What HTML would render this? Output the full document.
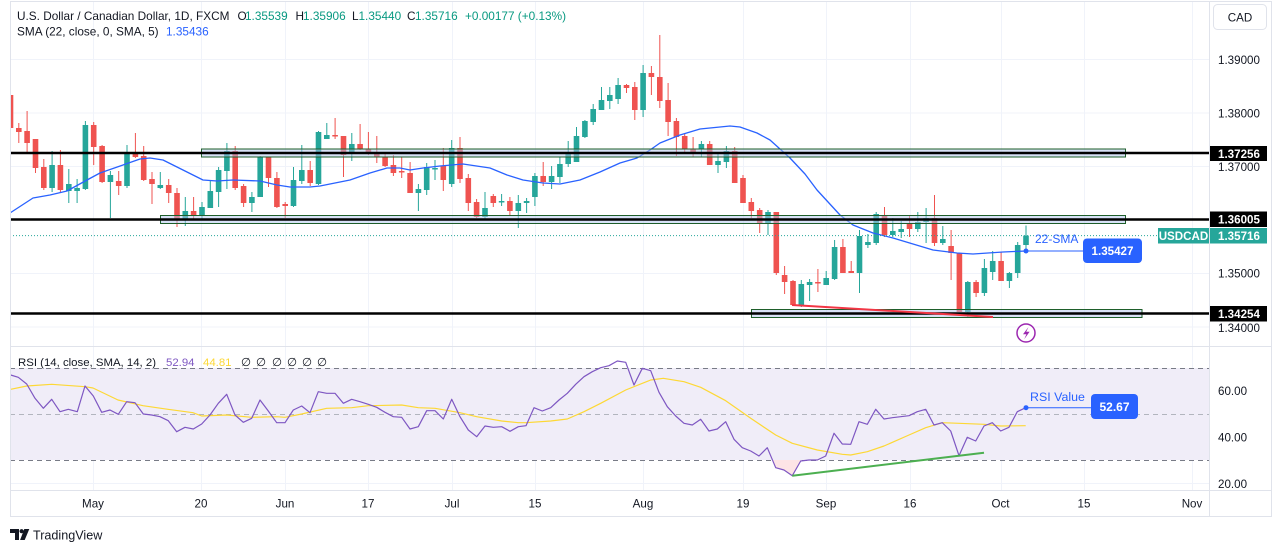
<!DOCTYPE html>
<html><head><meta charset="utf-8"><style>
html,body{margin:0;padding:0;background:#fff;}
body{width:1275px;height:552px;overflow:hidden;}
svg{display:block;font-family:"Liberation Sans",sans-serif;}
</style></head><body>
<svg width="1275" height="552" viewBox="0 0 1275 552" xmlns="http://www.w3.org/2000/svg">
<defs>
<clipPath id="pc"><rect x="10" y="1" width="1199" height="345"/></clipPath>
<clipPath id="rc"><rect x="10" y="347" width="1199" height="143"/></clipPath>
</defs>
<rect width="1275" height="552" fill="#fff"/>
<!-- grid -->
<g stroke="#f0f3fa" stroke-width="1">
<path d="M10 59.5H1209M10 113H1209M10 166.5H1209M10 220H1209M10 273.5H1209M10 327H1209"/>
<path d="M10 390.5H1209M10 437H1209M10 483.5H1209"/>
<path d="M93.5 1V490M201.5 1V490M285.5 1V490M368.5 1V490M452.5 1V490M535.5 1V490M643.5 1V490M743.5 1V490M826.5 1V490M910.5 1V490M1001.5 1V490M1084.5 1V490M1192.5 1V490"/>
</g>
<!-- RSI band -->
<rect x="10" y="368" width="1199" height="92" fill="#f0edf8"/>
<g stroke-width="1" stroke-dasharray="5,4" fill="none">
<path d="M10 368.5H1209M10 460.5H1209" stroke="#787b86"/>
<path d="M10 414.5H1209" stroke="#b2b5be"/>
</g>
<!-- candles -->
<g clip-path="url(#pc)">
<path fill="none" stroke="#26a69a" stroke-width="1" d="M52.1 151V192M68.8 169V203M77.1 179V203M85.4 121V190M110.4 171V218M127 145V188M160.3 172V189M185.3 197V226M202 202V219M210.3 181V208M218.6 167V207M226.9 143V189M251.9 192V212M260.2 156V197M293.5 167V207M301.8 145V184M318.5 131V185M326.8 123V139M351.8 133V161M418.4 184V211M426.7 163V195M435 160V180M451.7 140V187M485 192V219M501.6 194V206M518.3 195V228M526.6 198V213M534.9 173V206M551.6 166V189M559.9 157V183M568.2 141V167M576.5 127V162M584.9 120V138M593.2 104V125M601.5 87V110M609.8 87V109M618.1 78V104M643.1 65V117M701.4 141V157M718 153V173M726.4 146V168M768 210V235M801.3 280V307M809.6 279V301M826.2 271V285M834.6 240V280M859.5 230V293M867.9 234V248M876.2 212V245M892.8 218V237M901.2 221V238M917.8 212V232M926.1 208V243M942.8 226V245M967.8 281V317M984.4 259V296M992.7 251V280M1009.4 272V288M1017.7 242V278M1026 225.5V250"/>
<path fill="#26a69a" d="M49.3 165h5.6v23h-5.6zM66 184h5.6v7h-5.6zM74.3 188h5.6v3h-5.6zM82.6 125h5.6v64h-5.6zM107.6 175h5.6v7h-5.6zM124.2 153h5.6v33h-5.6zM157.5 185h5.6v3h-5.6zM182.5 211h5.6v8h-5.6zM199.2 207h5.6v8h-5.6zM207.5 191h5.6v17h-5.6zM215.8 170h5.6v22h-5.6zM224.1 151h5.6v20h-5.6zM249.1 197h5.6v6h-5.6zM257.4 157h5.6v40h-5.6zM290.7 180h5.6v26h-5.6zM299 170h5.6v11h-5.6zM315.7 132h5.6v52h-5.6zM324 135h5.6v4h-5.6zM349 144h5.6v10h-5.6zM415.6 189h5.6v4h-5.6zM423.9 167h5.6v23h-5.6zM432.2 168h5.6v1.5h-5.6zM448.9 148h5.6v36h-5.6zM482.2 208h5.6v9h-5.6zM498.8 201h5.6v1.5h-5.6zM515.5 203h5.6v8h-5.6zM523.8 201h5.6v2h-5.6zM532.1 176h5.6v21h-5.6zM548.8 176h5.6v6h-5.6zM557.1 164h5.6v13h-5.6zM565.4 152h5.6v12h-5.6zM573.7 136h5.6v26h-5.6zM582.1 121h5.6v16h-5.6zM590.4 109h5.6v13h-5.6zM598.7 100h5.6v10h-5.6zM607 95h5.6v6h-5.6zM615.3 85h5.6v14h-5.6zM640.3 73h5.6v37h-5.6zM698.6 144h5.6v5h-5.6zM715.2 161h5.6v4h-5.6zM723.6 151h5.6v11h-5.6zM765.2 212h5.6v11h-5.6zM798.5 284h5.6v21h-5.6zM806.8 282h5.6v3h-5.6zM823.4 278h5.6v7h-5.6zM831.8 247h5.6v32h-5.6zM856.7 236h5.6v37h-5.6zM865.1 242h5.6v3h-5.6zM873.4 214h5.6v29h-5.6zM890 231h5.6v4h-5.6zM898.4 229h5.6v3h-5.6zM915 222h5.6v7h-5.6zM923.3 218h5.6v4h-5.6zM940 239h5.6v4h-5.6zM965 282h5.6v30h-5.6zM981.6 268h5.6v25h-5.6zM989.9 261h5.6v11h-5.6zM1006.6 273h5.6v8h-5.6zM1014.9 245h5.6v28h-5.6zM1023.2 235.6h5.6v9.4h-5.6z"/>
<path fill="none" stroke="#ef5350" stroke-width="1" d="M10.5 92V134M18.8 123V143M27.1 111V153M35.5 139V173M43.8 159V190M60.4 150V193M93.7 122V165M102.1 145V183M118.7 171V195M135.4 133V158M143.7 146V181M152 172V204M168.7 179V203M177 188V227M193.6 197V219M235.2 146V190M243.6 184V207M268.5 157V187M276.9 172V208M285.2 202V218M310.2 161V186M335.1 118V139M343.5 136V177M360.1 124V150M368.4 132V155M376.8 136V163M385.1 153V167M393.4 155V176M401.7 157V178M410.1 162V193M443.3 148V191M460 137V183M468.3 174V211M476.6 199V218M493.3 194V207M509.9 197V216M543.2 162V186M626.5 84V93M634.8 82V120M651.4 66V95M659.8 35V108M668.1 83V136M676.4 118V156M684.7 133V153M693.1 137V157M709.7 141V165M734.7 147V183M743 175V203M751.3 198V218M759.7 208V233M776.3 212V275M784.6 266V294M793 280V305M817.9 269V292M842.9 239V273M851.2 261V273M884.5 207V237M909.5 216V237M934.5 195V246M951.1 230V280M959.4 253V312M976.1 280V297M1001.1 252V281"/>
<path fill="#ef5350" d="M7.7 95h5.6v33h-5.6zM16 128h5.6v4h-5.6zM24.3 131h5.6v12h-5.6zM32.7 139h5.6v29h-5.6zM41 167h5.6v21h-5.6zM57.6 165h5.6v25h-5.6zM90.9 125h5.6v22h-5.6zM99.3 146h5.6v36h-5.6zM115.9 181h5.6v5h-5.6zM132.6 153h5.6v4h-5.6zM140.9 156h5.6v24h-5.6zM149.2 179h5.6v5h-5.6zM165.9 185h5.6v8h-5.6zM174.2 193h5.6v26h-5.6zM190.8 211h5.6v5h-5.6zM232.4 151h5.6v37h-5.6zM240.8 186h5.6v17h-5.6zM265.7 157h5.6v21h-5.6zM274.1 178h5.6v29h-5.6zM282.4 204h5.6v2h-5.6zM307.4 170h5.6v13h-5.6zM332.3 135h5.6v1.5h-5.6zM340.7 136h5.6v19h-5.6zM357.3 144h5.6v5h-5.6zM365.6 149h5.6v5h-5.6zM374 153h5.6v4h-5.6zM382.3 157h5.6v9h-5.6zM390.6 165h5.6v8h-5.6zM398.9 171h5.6v1.5h-5.6zM407.3 173h5.6v20h-5.6zM440.5 166h5.6v14h-5.6zM457.2 148h5.6v31h-5.6zM465.5 178h5.6v25h-5.6zM473.8 202h5.6v15h-5.6zM490.5 196h5.6v7h-5.6zM507.1 201h5.6v10h-5.6zM540.4 176h5.6v6h-5.6zM623.7 85h5.6v3h-5.6zM632 87h5.6v23h-5.6zM648.6 73h5.6v4h-5.6zM657 77h5.6v24h-5.6zM665.3 100h5.6v22h-5.6zM673.6 121h5.6v16h-5.6zM681.9 136h5.6v13h-5.6zM690.3 149h5.6v5h-5.6zM706.9 144h5.6v21h-5.6zM731.9 151h5.6v32h-5.6zM740.2 178h5.6v25h-5.6zM748.5 202h5.6v9h-5.6zM756.9 210h5.6v13h-5.6zM773.5 212h5.6v61h-5.6zM781.8 275h5.6v7h-5.6zM790.2 281h5.6v24h-5.6zM815.1 282h5.6v1.5h-5.6zM840.1 247h5.6v26h-5.6zM848.4 271h5.6v2h-5.6zM881.7 215h5.6v20h-5.6zM906.7 223h5.6v6h-5.6zM931.7 218h5.6v25h-5.6zM948.3 246h5.6v7h-5.6zM956.6 253h5.6v59h-5.6zM973.3 282h5.6v11h-5.6zM998.3 261h5.6v20h-5.6z"/>
<!-- SMA -->
<polyline fill="none" stroke="#2962ff" stroke-width="1.3" stroke-linejoin="round" points="10,213 33,198 50,195 67,191 87,180 100,173 123,165 140,159 150,158 163,160 183,170 203,180 217,181 233,180 260,181 277,185 290,187 310,187 320,186 350,180 370,173 387,168 400,168 410,170 423,168 440,166 463,164 490,168 507,175 523,180 543,183 560,184 580,180 600,172 620,163 637,158 650,150 660,143 680,135 700,129 720,127 730,126 740,127 757,133 770,140 790,158 805,174 817,190 840,215 853,225 873,233 893,238 913,244 933,250 957,253 973,254 1003,252 1026,251"/>
<!-- boxes -->
<g fill="rgba(178,198,240,0.5)" stroke="#1e5e2a" stroke-width="1">
<rect x="201.5" y="149" width="924" height="8"/>
<rect x="160.5" y="215.5" width="965" height="8"/>
<rect x="751.5" y="309.5" width="390.5" height="8"/>
</g>
<g stroke="#000" stroke-width="2.6">
<path d="M10 153H1209M10 219.5H1209M10 313.5H1209"/>
</g>
<!-- current price dotted line -->
<path d="M10 235.6H1158" stroke="#26a69a" stroke-width="1" stroke-dasharray="1,2"/>
<!-- red divergence -->
<path d="M792 305L993 317" stroke="#f23645" stroke-width="2"/>
</g>
<!-- lightning -->
<circle cx="1026" cy="333" r="9" fill="#fff" stroke="#9c27b0" stroke-width="1.5"/>
<path d="M1028.5 327L1023 334.2H1026.4L1024.2 339.2L1029.6 331.8H1026.2Z" fill="#9c27b0"/>
<!-- SMA annotation -->
<path d="M1026 251H1084" stroke="#2962ff" stroke-width="1"/>
<circle cx="1026" cy="251" r="2.5" fill="#2962ff"/>
<text x="1035" y="243" font-size="12" fill="#2962ff">22-SMA</text>
<rect x="1083" y="238.5" width="59" height="24.5" rx="4" fill="#2962ff"/>
<text x="1112.5" y="255" font-size="11.6" font-weight="bold" fill="#fff" text-anchor="middle">1.35427</text>
<!-- RSI -->
<g clip-path="url(#rc)">
<polygon points="772.5,460 775.7,467.7 784,470 792.3,475.7 800.7,461 801.3,460" fill="#fde4e6"/>
<polyline fill="none" stroke="#fdd835" stroke-width="1.2" stroke-linejoin="round" points="10.7,389.3 26.7,386 51.7,384.3 85,386.7 93,388 118,400 143,405.7 168,409.3 193,412.7 201.7,416 226.7,415 251.7,417.3 276.7,416.7 285,417.3 301.7,414 326.7,408.3 351.7,407.7 368.3,405.7 401.7,405 418.3,407.7 435,408.3 460,412.7 476.7,416.7 501.7,421 518.3,422.7 526,422.7 550.7,421 567.3,419 584,411.7 600.7,403.3 625.7,390 650.7,380 663.3,378.3 684,381.7 700.7,387.3 725.7,400.7 750.7,418.3 775.7,435 792.3,443.3 817.3,450 842.3,454.3 850.7,455 867.3,451.7 884,446 909,435 925.7,427.7 942.3,422.7 959,423.3 984,424.3 1000.7,426 1025.7,425.7"/>
<polyline fill="none" stroke="#7e57c2" stroke-width="1.2" stroke-linejoin="round" points="10.7,375 18.3,377.3 26.7,384 35,398.3 43.3,408.3 51.7,399.3 60,411.7 68.3,409.3 77.3,411.7 85,386 93.3,396 101.7,412.3 110,410 118.3,414.3 126.7,401.7 135,402.7 143.3,414 151.7,415 160,416.7 168.3,420.7 176.7,431.7 185,427.3 193.3,429 201.7,424 210,415 218.3,403.3 226.7,394.3 235,415 243.3,422.3 251.7,418.3 260,400 268.3,411 276.7,422.7 285,422.7 293.3,410 301.7,406 310,412.7 318.3,391.7 326.7,393.3 335,393.3 343.3,403.3 351.7,399.3 360,401.7 368.3,404.3 376.7,407.3 385,412.3 393.3,416.7 401.7,417.3 410,429 418.3,426.7 426.7,410.7 435,410.7 443.3,419 451.7,399.3 460,416.7 468.3,430 476.7,436.7 485,426 493.3,427.3 501.7,426.7 510,431.3 518.3,426.7 526,425.7 534,407.7 542.3,411 550.7,407.7 559,400 567.3,393.3 575.7,384.3 584,376.7 592.3,371.7 600.7,367.7 609,365.7 617.3,361 625.7,362.3 634,385 642.3,368.3 650.7,370.7 659,392.3 667.3,406.7 675.7,416 684,423.3 692.3,425 700.7,419.3 709,431 717.3,429 725.7,421.7 734,439.3 742.3,447.7 750.7,451 759,456 767.3,447.7 775.7,467.7 784,470 792.3,475.7 800.7,461 809,460 817.3,460 825.7,456 834,433.3 842.3,444 850.7,444.3 859,421.7 867.3,424.3 875.7,409.3 884,419 892.3,417.7 900.7,416.7 909,415.7 917.3,411.7 925.7,409.3 934,425 942.3,422.7 950.7,431 959,455.7 967.3,437.3 975.7,441 984,426 992.3,422.7 1000.7,431 1009,427.3 1017.3,411.7 1025.7,407.7"/>
<path d="M792.3 475.7L984 452.7" stroke="#4caf50" stroke-width="2"/>
</g>
<!-- RSI annotation -->
<path d="M1026 407.7H1091" stroke="#2962ff" stroke-width="1"/>
<circle cx="1026" cy="407.7" r="2.5" fill="#2962ff"/>
<text x="1030" y="401" font-size="12.4" fill="#2962ff">RSI Value</text>
<rect x="1091" y="394" width="47" height="25" rx="4" fill="#2962ff"/>
<text x="1114.5" y="411" font-size="12" font-weight="bold" fill="#fff" text-anchor="middle">52.67</text>
<!-- legends -->
<g font-size="11.8" fill="#131722">
<text x="17" y="20">U.S. Dollar / Canadian Dollar, 1D, FXCM</text>
<text x="237.5" y="20">O<tspan x="245" fill="#089981">1.35539</tspan></text>
<text x="295.5" y="20">H<tspan x="303" fill="#089981">1.35906</tspan></text>
<text x="352" y="20">L<tspan x="358.5" fill="#089981">1.35440</tspan></text>
<text x="407" y="20">C<tspan x="415" fill="#089981">1.35716</tspan></text>
<text x="465" y="20" fill="#089981">+0.00177 (+0.13%)</text>
<text x="17" y="35.5">SMA (22, close, 0, SMA, 5)</text>
<text x="166" y="35.5" fill="#2962ff">1.35436</text>
</g>
<g font-size="11.4" fill="#131722">
<text x="18" y="366">RSI (14, close, SMA, 14, 2)</text>
<text x="166" y="366" fill="#7e57c2">52.94</text>
<text x="203" y="366" fill="#fdd835">44.81</text>
<text x="241" y="366">∅</text><text x="256" y="366">∅</text><text x="272" y="366">∅</text><text x="287" y="366">∅</text><text x="302" y="366">∅</text><text x="317" y="366">∅</text>
</g>
<!-- right axis -->
<rect x="1210" y="2" width="61" height="488" fill="#fff"/>
<rect x="1213.5" y="4.5" width="53" height="25" rx="4" fill="#fff" stroke="#e0e3eb"/>
<text x="1240" y="21.5" font-size="11.6" fill="#131722" text-anchor="middle">CAD</text>
<g font-size="11.6" fill="#131722">
<text x="1218" y="64">1.39000</text>
<text x="1218" y="117.5">1.38000</text>
<text x="1218" y="171">1.37000</text>
<text x="1218" y="277.5">1.35000</text>
<text x="1218" y="332">1.34000</text>
<text x="1218" y="395">60.00</text>
<text x="1218" y="441.5">40.00</text>
<text x="1218" y="488">20.00</text>
</g>
<g font-size="11.6" font-weight="bold" fill="#fff">
<rect x="1210" y="146" width="57" height="15" fill="#000"/>
<text x="1218" y="158">1.37256</text>
<rect x="1210" y="211.5" width="57" height="15.5" fill="#000"/>
<text x="1218" y="223.5">1.36005</text>
<rect x="1158" y="228" width="51" height="15.5" fill="#26a69a"/>
<text x="1183.5" y="240" text-anchor="middle">USDCAD</text>
<rect x="1210" y="228" width="57" height="15.5" fill="#26a69a"/>
<text x="1218" y="240">1.35716</text>
<rect x="1210" y="306" width="57" height="15.5" fill="#000"/>
<text x="1218" y="318">1.34254</text>
</g>
<!-- time axis -->
<g font-size="11.6" fill="#131722" text-anchor="middle">
<text x="93" y="507.5">May</text>
<text x="201" y="507.5">20</text>
<text x="285" y="507.5">Jun</text>
<text x="368" y="507.5">17</text>
<text x="452" y="507.5">Jul</text>
<text x="535" y="507.5">15</text>
<text x="643" y="507.5">Aug</text>
<text x="743" y="507.5">19</text>
<text x="826" y="507.5">Sep</text>
<text x="910" y="507.5">16</text>
<text x="1000.5" y="507.5">Oct</text>
<text x="1084" y="507.5">15</text>
<text x="1192" y="507.5">Nov</text>
</g>
<!-- frame -->
<g stroke="#e0e3eb" stroke-width="1" fill="none">
<rect x="10.5" y="1.5" width="1261" height="515"/>
<path d="M10 346.5H1271M10 490.5H1271M1209.5 1V516"/>
</g>
<!-- logo -->
<g fill="#131722">
<path d="M10 529h9v11h-4v-7h-5z"/>
<circle cx="21.6" cy="531.2" r="2.1"/>
<path d="M24.3 529h5l-4.6 11h-4.6z"/>
</g>
<text x="33" y="539.5" font-size="12.6" fill="#131722">TradingView</text>
</svg>
</body></html>
